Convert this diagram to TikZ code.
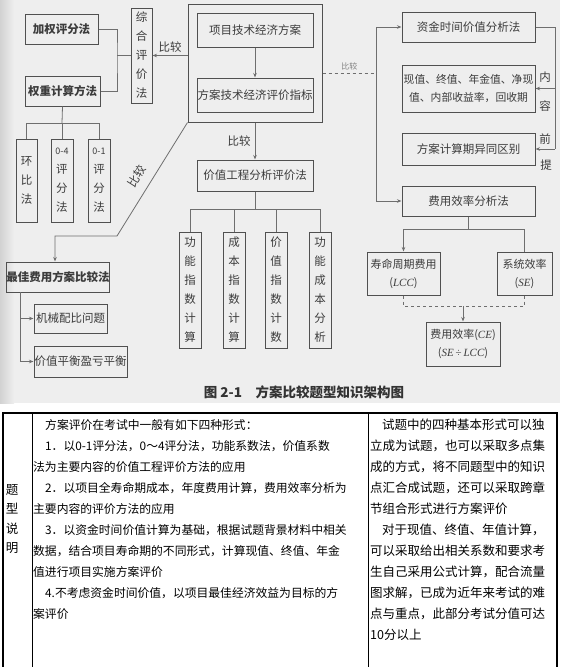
\documentclass[tikz,border=0pt]{standalone}
\usepackage{fontspec}
\setmainfont{Noto Sans CJK SC}
\newfontfamily\lat{Liberation Serif}
\usetikzlibrary{arrows.meta}
\definecolor{txt}{RGB}{60,60,60}
\definecolor{ln}{RGB}{110,110,110}
\definecolor{bd}{RGB}{80,80,80}
\definecolor{bg}{RGB}{238,238,238}
\tikzset{
  box/.style={draw=bd, line width=1pt, inner sep=0pt, text=txt, align=center, font=\fontsize{11.5}{14}\selectfont},
  vbox/.style={box, font=\fontsize{11.5}{19}\selectfont},
  bbox/.style={box, font=\fontsize{11.5}{14}\selectfont\bfseries},
  conn/.style={draw=ln, line width=0.8pt},
  arr/.style={conn, -{Stealth[length=4.5pt,width=3.5pt]}},
  lab/.style={text=txt, font=\fontsize{11.5}{14}\selectfont, inner sep=0pt},
  mtx/.style={anchor=west, inner sep=0pt, font=\fontsize{11.8}{14}\selectfont},
  rtx/.style={anchor=west, inner sep=0pt, font=\fontsize{12.5}{14}\selectfont},
}
\begin{document}
\begin{tikzpicture}[x=1pt,y=-1pt]
\useasboundingbox (0,0) rectangle (560,667);
% scanned background
\fill[bg] (0,0) rectangle (560,403);
\shade[left color=gray!35, right color=bg] (0,0) rectangle (14,403);

% ---- left part
\node[bbox, minimum width=73pt, minimum height=30pt] (jq) at (61.5,29) {加权评分法};
\node[bbox, minimum width=75pt, minimum height=30pt] (qz) at (62.5,91) {权重计算方法};
\node[vbox, minimum width=21pt, minimum height=95pt] (zh) at (141.5,55.5) {综\\合\\评\\价\\法};
\node[vbox, minimum width=21pt, minimum height=83pt] (h1) at (26.5,180.5) {环\\比\\法};
\node[vbox, minimum width=22pt, minimum height=83pt] (h2) at (62,180.5) {{\fontsize{9}{10}\selectfont 0-4}\\评\\分\\法};
\node[vbox, minimum width=22pt, minimum height=83pt] (h3) at (99,180.5) {{\fontsize{9}{10}\selectfont 0-1}\\评\\分\\法};
\node[bbox, minimum width=100pt, minimum height=30pt] (zj) at (58,277) {最佳费用方案比较法};
\node[box, minimum width=73pt, minimum height=29pt] (jx) at (70.5,318.5) {机械配比问题};
\node[box, minimum width=93pt, minimum height=31pt] (jp) at (80.5,361.5) {价值平衡盈亏平衡};

% ---- middle part
\node[box, minimum width=134pt, minimum height=118pt] (big) at (255,63) {};
\node[box, minimum width=116pt, minimum height=34pt] (xm) at (255,30) {项目技术经济方案};
\node[box, minimum width=116pt, minimum height=34pt] (fa) at (255,95) {方案技术经济评价指标};
\node[box, minimum width=116pt, minimum height=31pt] (jz) at (255,175.5) {价值工程分析评价法};
\node[vbox, minimum width=22pt, minimum height=116pt] (g1) at (190,290) {功\\能\\指\\数\\计\\算};
\node[vbox, minimum width=22pt, minimum height=116pt] (g2) at (234,290) {成\\本\\指\\数\\计\\算};
\node[vbox, minimum width=22pt, minimum height=116pt] (g3) at (276,290) {价\\值\\指\\数\\计\\数};
\node[vbox, minimum width=22pt, minimum height=116pt] (g4) at (320,290) {功\\能\\成\\本\\分\\析};

% ---- right part
\node[box, minimum width=133pt, minimum height=30pt] (zs) at (468.5,27) {资金时间价值分析法};
\node[box, minimum width=133pt, minimum height=47pt, font=\fontsize{10.8}{18}\selectfont] (xz) at (468.5,88.5) {现值、终值、年金值、净现\\值、内部收益率，回收期};
\node[box, minimum width=133pt, minimum height=32pt] (fj) at (468.5,149) {方案计算期异同区别};
\node[box, minimum width=133pt, minimum height=30pt] (fy) at (468.5,201) {费用效率分析法};
\node[box, minimum width=73pt, minimum height=43pt, font=\fontsize{11}{18}\selectfont] (sm) at (403.5,273.5) {寿命周期费用\\({\lat\itshape LCC})};
\node[box, minimum width=55pt, minimum height=43pt, font=\fontsize{11}{18}\selectfont] (xt) at (524.5,273.5) {系统效率\\({\lat\itshape SE})};
\node[box, minimum width=74pt, minimum height=44pt, font=\fontsize{11}{18}\selectfont] (ce) at (463,344) {费用效率({\lat\itshape CE})\\({\lat\itshape SE}\,{\lat ÷}\,{\lat\itshape LCC})};

% ---- connectors left
\coordinate (b1) at (117,55.5);
\draw[conn] (jq.east) -| (b1) |- (qz.east);
\draw[conn] (b1) -- (zh.west);
\draw[arr] (big.west |- zh.east) -- node[lab, above=3pt] {比较} (zh.east);
\coordinate (t2) at (62,123);
\draw[conn] (qz.south) -- (t2);
\draw[conn] (h1.north) -- (h1.north |- t2) -- (h3.north |- t2) -- (h3.north);
\draw[conn] (h2.north) -- (h2.north |- t2);
\coordinate (d1) at (117,236);
\coordinate (d2) at (55,236);
\draw[arr] (big.south west) -- (d1) -- (d2) -- (d2 |- zj.north);
\node[lab, rotate=58] (bj2) at (137,176) {比较};
\coordinate (e1) at (20,292);
\draw[arr] (e1) |- (jx.west);
\draw[arr] (e1) |- (jp.west);

% ---- connectors middle
\draw[arr] (xm.south) -- (fa.north);
\draw[arr] (big.south) -- node[lab, left=4pt] {比较} (jz.north);
\coordinate (t1) at (255,209);
\draw[conn] (jz.south) -- (t1);
\draw[conn] (g1.north) -- (g1.north |- t1) -- (g4.north |- t1) -- (g4.north);
\draw[conn] (g2.north) -- (g2.north |- t1);
\draw[conn] (g3.north) -- (g3.north |- t1);

% ---- connectors right
\coordinate (v1) at (376,73);
\draw[conn, dashed] (big.east |- v1) -- node[lab, above=2pt, text=gray, font=\fontsize{8}{9}\selectfont] {比较} (v1);
\draw[arr] (v1) |- (zs.west);
\draw[arr] (v1) |- (fy.west);
\coordinate (r1) at (555,27);
\coordinate (r2) at (555,88.5);
\coordinate (r3) at (555,149);
\draw[conn] (zs.east) -- (r1) -- (r3);
\draw[arr] (r2) -- (xz.east);
\draw[arr] (r3) -- (fj.east);
\node[lab] (n1) at (545,77) {内};
\node[lab] (n2) at (545,106) {容};
\node[lab] (n3) at (545,139) {前};
\node[lab] (n4) at (546,165) {提};
\coordinate (f) at (468.5,229);
\draw[conn] (fy.south) -- (f);
\draw[arr] (f) -| (sm.north);
\draw[conn] (f) -| (xt.north);
\coordinate (gg) at (463,306);
\draw[conn, dashed] (sm.south) |- (gg);
\draw[conn, dashed] (xt.south) |- (gg);
\draw[arr] (gg) -- (ce.north);

% caption
\node[text=black!80, inner sep=0pt, font=\fontsize{13.5}{15}\selectfont\bfseries] (cap) at (304,392) {图 2-1\quad 方案比较题型知识架构图};

% ---- table
\draw[line width=2.2pt] (3,667) -- (3,413) -- (557,413) -- (557,667);
\draw[line width=0.9pt] (32,413) -- (32,667);
\draw[line width=0.9pt] (368,413) -- (368,667);
\node[inner sep=0pt, align=center, font=\fontsize{12.5}{19.5}\selectfont] (tx) at (12,519) {题\\型\\说\\明};

\node[mtx] (m1) at (45,425) {方案评价在考试中一般有如下四种形式：};
\node[mtx] (m2) at (45,446) {1．以0-1评分法，0～4评分法，功能系数法，价值系数};
\node[mtx] (m3) at (33,467) {法为主要内容的价值工程评价方法的应用};
\node[mtx] (m4) at (45,488) {2．以项目全寿命期成本，年度费用计算，费用效率分析为};
\node[mtx] (m5) at (33,509) {主要内容的评价方法的应用};
\node[mtx] (m6) at (45,530) {3．以资金时间价值计算为基础，根据试题背景材料中相关};
\node[mtx] (m7) at (33,551) {数据，结合项目寿命期的不同形式，计算现值、终值、年金};
\node[mtx] (m8) at (33,572) {值进行项目实施方案评价};
\node[mtx] (m9) at (45,593) {4.不考虑资金时间价值，以项目最佳经济效益为目标的方};
\node[mtx] (m10) at (33,614) {案评价};

\node[rtx] (r01) at (382,425) {试题中的四种基本形式可以独};
\node[rtx] (r02) at (370,446) {立成为试题，也可以采取多点集};
\node[rtx] (r03) at (370,467) {成的方式，将不同题型中的知识};
\node[rtx] (r04) at (370,488) {点汇合成试题，还可以采取跨章};
\node[rtx] (r05) at (370,509) {节组合形式进行方案评价};
\node[rtx] (r06) at (382,530) {对于现值、终值、年值计算，};
\node[rtx] (r07) at (370,551) {可以采取给出相关系数和要求考};
\node[rtx] (r08) at (370,572) {生自己采用公式计算，配合流量};
\node[rtx] (r09) at (370,593) {图求解，已成为近年来考试的难};
\node[rtx] (r10) at (370,614) {点与重点，此部分考试分值可达};
\node[rtx] (r11) at (370,635) {10分以上};
\end{tikzpicture}
\end{document}
